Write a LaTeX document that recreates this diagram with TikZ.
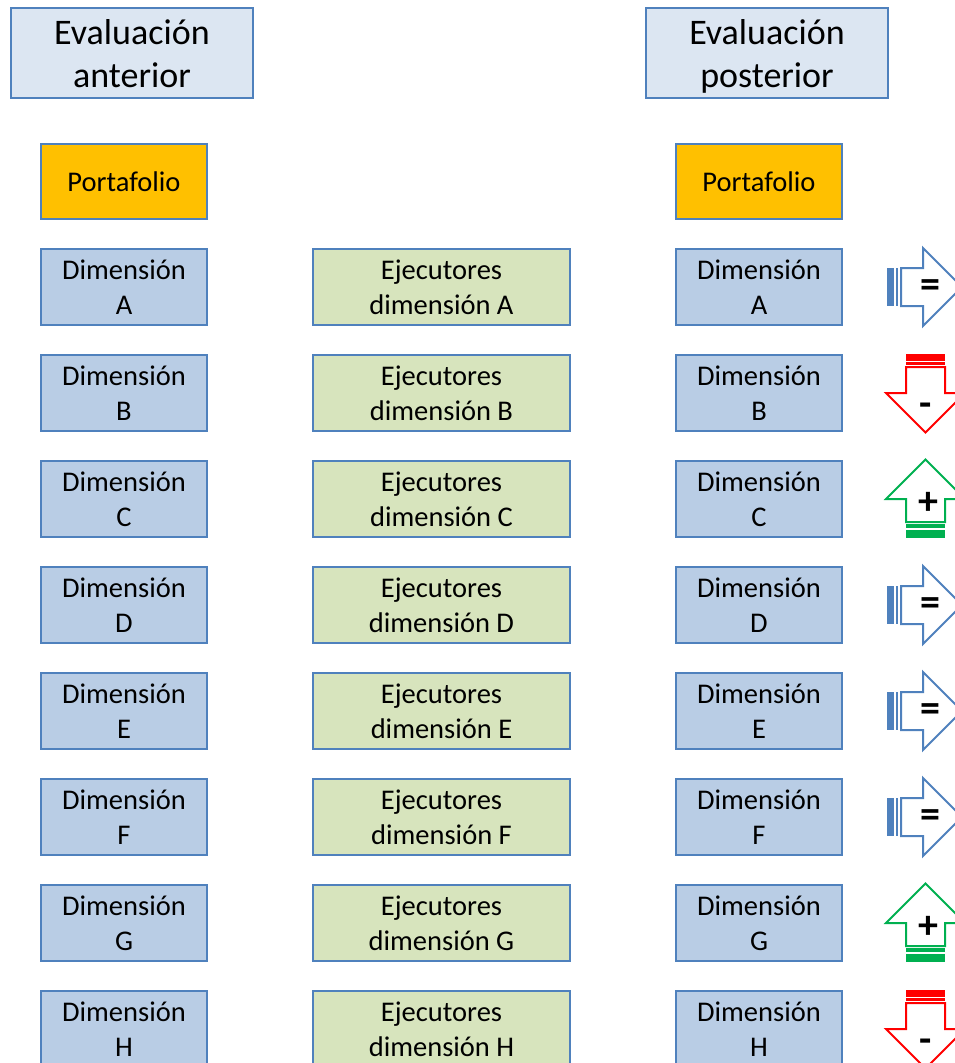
\documentclass[tikz,border=0pt]{standalone}
\usepackage{fontspec}
\setmainfont{Carlito}
\definecolor{bord}{HTML}{4F81BD}
\definecolor{evalfill}{HTML}{DCE6F2}
\definecolor{dimfill}{HTML}{B9CDE5}
\definecolor{ejefill}{HTML}{D7E4BD}
\definecolor{portfill}{HTML}{FFC000}
\definecolor{upgreen}{HTML}{00B050}
\definecolor{downred}{HTML}{FF0000}
\newcommand\es{\rule[-7.5pt]{0pt}{40.5pt}}
\newcommand\ds{\rule[-8pt]{0pt}{35pt}}
\newcommand\eqarrow[2]{%
  \begin{scope}[shift={(0,#1)}]
    \fill[bord] (887,19) rectangle (893.5,57);
    \fill[bord] (895.5,19) rectangle (897.5,57);
    \draw[arrowline, draw=bord] (901,19) -- (923,19) -- (923,-1) -- (962,38) -- (923,77) -- (923,57) -- (901,57) -- cycle;
    \node[sign] (#2) at (930.5,40) {=};
  \end{scope}}
\newcommand\downarrowicon[2]{%
  \begin{scope}[shift={(0,#1)}]
    \fill[downred] (906,-1) rectangle (945,5.5);
    \fill[downred] (906,7) rectangle (945,9.5);
    \draw[arrowline, draw=downred] (906,12) -- (945,12) -- (945,38) -- (965,38) -- (925.5,77.5) -- (886,38) -- (906,38) -- cycle;
    \node[sign] (#2) at (926,55) {-};
  \end{scope}}
\newcommand\uparrowicon[2]{%
  \begin{scope}[shift={(0,#1)}]
    \fill[upgreen] (906,63) rectangle (945,66.5);
    \fill[upgreen] (906,68.5) rectangle (945,77);
    \draw[arrowline, draw=upgreen] (906,61) -- (945,61) -- (945,38) -- (965,38) -- (925.5,-1.5) -- (886,38) -- (906,38) -- cycle;
    \node[sign] (#2) at (928,42) {+};
  \end{scope}}
\begin{document}
\begin{tikzpicture}[x=1pt,y=-1pt,
  box/.style={draw=bord, line width=2pt, inner sep=0pt, align=center, font=\fontsize{28.5}{35}\selectfont},
  evalbox/.style={box, fill=evalfill, minimum width=242pt, minimum height=90pt, font=\fontsize{36}{42.5}\selectfont},
  portbox/.style={box, fill=portfill, minimum width=166pt, minimum height=75pt},
  dimbox/.style={box, fill=dimfill, minimum width=166pt, minimum height=76pt},
  ejebox/.style={box, fill=ejefill, minimum width=257pt, minimum height=76pt},
  arrowline/.style={line width=2pt, fill=white, line join=miter},
  sign/.style={inner sep=0pt, font=\fontsize{40}{40}\selectfont\bfseries},
]
\useasboundingbox (0,0) rectangle (955,1063);
\clip (0,0) rectangle (955,1063);
\node[evalbox] (ea) at (132,53) {\es Evaluación\\\es anterior};
\node[evalbox] (ep) at (767,53) {\es Evaluación\\\es posterior};
\node[portbox] (pl) at (124,181.5) {\ds Portafolio};
\node[portbox] (pr) at (759,181.5) {\ds Portafolio};
\foreach \L [count=\i from 0] in {A,B,C,D,E,F,G,H}{
  \pgfmathsetmacro{\yc}{287+106*\i}
  \node[dimbox] (dl\L) at (124,\yc) {\ds Dimensión\\\ds \L};
  \node[ejebox] (ej\L) at (441.5,\yc) {\ds Ejecutores\\\ds dimensión \L};
  \node[dimbox] (dr\L) at (759,\yc) {\ds Dimensión\\\ds \L};
}
\eqarrow{249}{sA}
\downarrowicon{355}{sB}
\uparrowicon{461}{sC}
\eqarrow{567}{sD}
\eqarrow{673}{sE}
\eqarrow{779}{sF}
\uparrowicon{885}{sG}
\downarrowicon{991}{sH}
\end{tikzpicture}
\end{document}
